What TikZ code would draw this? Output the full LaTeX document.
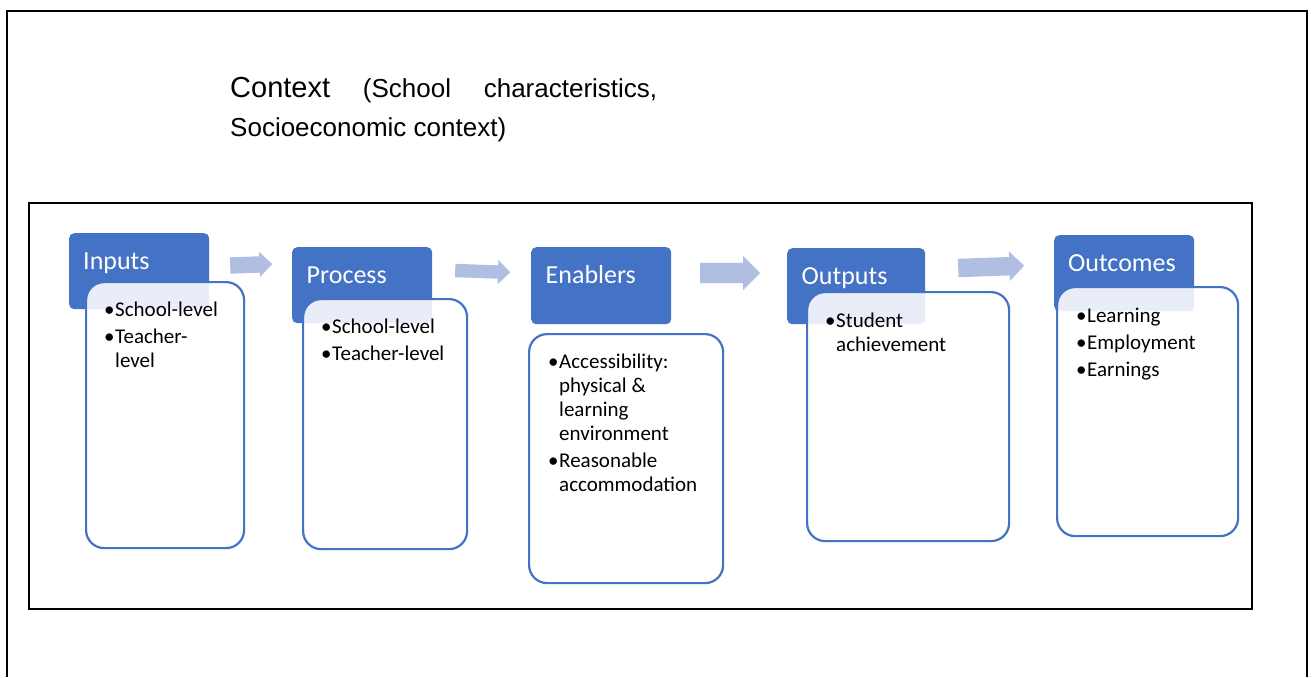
\documentclass[tikz,border=0pt]{standalone}
\usepackage{fontspec}
\setmainfont{Carlito}
\newfontfamily\arialfont{Liberation Sans}
\usetikzlibrary{shapes.arrows}

\definecolor{headblue}{RGB}{68,114,196}
\definecolor{arrowblue}{RGB}{176,190,226}

% one bulleted entry with hanging indent
\newcommand\bitem[1]{\par\hangindent=11pt\hangafter=1\noindent\makebox[11pt][l]{\textbullet}#1}
\newcommand\bodylist[1]{\parbox[t]{230pt}{\fontsize{21}{24}\selectfont\setlength\parskip{3pt}\raggedright #1}}

\tikzset{
  frame/.style={draw=black, line width=2pt},
  headbox/.style={anchor=north west, fill=headblue, draw=none, rounded corners=5pt, inner sep=0pt},
  bodybox/.style={anchor=north west, draw=headblue, line width=2.2pt, fill=white, fill opacity=0.88,
                  rounded corners=18pt, inner sep=0pt},
  titletext/.style={anchor=base west, inner sep=0pt, text=white, font=\fontsize{26}{30}\selectfont},
  listtext/.style={anchor=base west, inner sep=0pt, text=black},
  flowarrow/.style={single arrow, fill=arrowblue, draw=none, inner xsep=0pt, anchor=tail,
                    single arrow tip angle=90},
}

\begin{document}
\begin{tikzpicture}[x=1pt, y=-1pt]
  \useasboundingbox (0,0) rectangle (1313,677);
  \fill[white] (0,0) rectangle (1313,677);

  % outer frame (open at the bottom) and inner frame
  \coordinate (ofbl) at (7,677);
  \coordinate (oftl) at (7,11);
  \coordinate (oftr) at (1307,11);
  \coordinate (ofbr) at (1307,677);
  \draw[frame] (ofbl) -- (oftl) -- (oftr) -- (ofbr);
  \node[frame, anchor=north west, minimum width=1223pt, minimum height=406pt, inner sep=0pt] (inner) at (28,202) {};

  % context heading
  \node[anchor=base west, inner sep=0pt] (context) at (230,97.3) {\parbox[t]{440pt}{\arialfont\fontsize{26}{38.7}\selectfont
    \makebox[427pt][s]{{\fontsize{29}{38.7}\selectfont Context} (School characteristics,}\\
    Socioeconomic context)}};

  % Inputs
  \node[headbox, minimum width=140pt, minimum height=76pt] (inh) at (69,233) {};
  \node[titletext] (int) at (83,269) {Inputs};
  \node[bodybox, minimum width=158pt, minimum height=266pt] (inb) at (85,281) {};
  \node[listtext] (inl) at (104,316.5) {\bodylist{\bitem{School-level}\bitem{Teacher-\newline level}}};

  % Process
  \node[headbox, minimum width=140pt, minimum height=76pt] (prh) at (292,247) {};
  \node[titletext] (prt) at (306.5,283) {Process};
  \node[bodybox, minimum width=164pt, minimum height=250pt] (prb) at (302,298) {};
  \node[listtext] (prl) at (321,333) {\bodylist{\bitem{School-level}\bitem{Teacher-level}}};

  % Enablers
  \node[headbox, minimum width=140pt, minimum height=77pt] (enh) at (531,247) {};
  \node[titletext] (ent) at (545.5,283) {Enablers};
  \node[bodybox, minimum width=194pt, minimum height=249pt] (enb) at (528,333) {};
  \node[listtext] (enl) at (548,368) {\bodylist{\bitem{Accessibility:\newline physical \&\newline learning\newline environment}\bitem{Reasonable\newline accommodation}}};

  % Outputs
  \node[headbox, minimum width=138pt, minimum height=76pt] (ouh) at (787,248) {};
  \node[titletext] (out) at (801.5,284) {Outputs};
  \node[bodybox, minimum width=202pt, minimum height=249pt] (oub) at (806,291) {};
  \node[listtext] (oul) at (825,327) {\bodylist{\bitem{Student\newline achievement}}};

  % Outcomes
  \node[headbox, minimum width=140pt, minimum height=76pt] (och) at (1054,235) {};
  \node[titletext] (oct) at (1068,271) {Outcomes};
  \node[bodybox, minimum width=181pt, minimum height=249pt] (ocb) at (1056,286) {};
  \node[listtext] (ocl) at (1076,322) {\bodylist{\bitem{Learning}\bitem{Employment}\bitem{Earnings}}};

  % block arrows between the stages (inner ysep = half the shaft width)
  \node[flowarrow, minimum height=42pt, inner ysep=8pt, single arrow head extend=4.5pt, rotate=2] (arr1) at (230,265.5) {};
  \node[flowarrow, minimum height=55pt, inner ysep=6.5pt, single arrow head extend=5.5pt, rotate=-2] (arr2) at (455,270.5) {};
  \node[flowarrow, minimum height=60pt, inner ysep=10pt, single arrow head extend=7pt] (arr3) at (700,273) {};
  \node[flowarrow, minimum height=66pt, inner ysep=9pt, single arrow head extend=5.6pt, rotate=2] (arr4) at (958,268) {};
\end{tikzpicture}
\end{document}
